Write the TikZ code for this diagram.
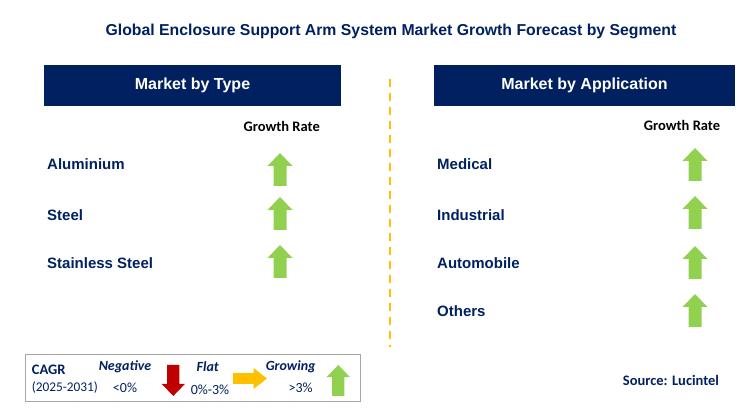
\documentclass[tikz,border=0pt]{standalone}
\usepackage{fontspec}
\setmainfont{Carlito}
\newfontfamily\arialfont{Liberation Sans}
\usetikzlibrary{positioning}
\definecolor{navy}{HTML}{002060}
\definecolor{growgreen}{HTML}{92D050}
\definecolor{flatyellow}{HTML}{FFC000}
\definecolor{negred}{HTML}{C00000}
\tikzset{
  header/.style={fill=navy, text=white, minimum width=297pt, minimum height=41pt,
    font=\arialfont\bfseries\fontsize{16}{18}\selectfont},
  segitem/.style={anchor=west, text=navy, inner sep=0pt,
    font=\arialfont\bfseries\fontsize{15}{18}\selectfont},
  ratehead/.style={inner sep=0pt, font=\bfseries\fontsize{14.5}{17}\selectfont},
  legtext/.style={text=navy, inner sep=0pt, font=\fontsize{14}{16}\selectfont},
  legkey/.style={legtext, font=\bfseries\itshape\fontsize{14}{16}\selectfont},
  pics/blockarrow/.style={code={
    \fill[pic actions] (-6.5,0) -- (-6.5,-20) -- (-12.5,-20) -- (0,-33)
      -- (12.5,-20) -- (6.5,-20) -- (6.5,0) -- cycle;}}
}
\begin{document}
\begin{tikzpicture}[x=1pt, y=-1pt]
  \useasboundingbox (0,0) rectangle (750,411);

  \node (title) [text=navy, font=\arialfont\bfseries\fontsize{15.8}{18}\selectfont]
    at (391,31) {Global Enclosure Support Arm System Market Growth Forecast by Segment};

  \node (typehead) [header] at (192.5,85.5) {Market by Type};
  \node (apphead) [header, minimum width=301pt] at (584.5,85.5) {Market by Application};

  % divider
  \coordinate (divtop) at (390,79);
  \coordinate (divbot) at (390,347);
  \draw [flatyellow, line width=2pt, dash pattern=on 8pt off 6pt] (divtop) -- (divbot);

  \node (typerate) [ratehead] at (281.7,126) {Growth Rate};
  \node (apprate) [ratehead] at (682,125) {Growth Rate};

  % market by type
  \node (alu) [segitem] at (47,164) {Aluminium};
  \node (steel) [segitem] at (47,215) {Steel};
  \node (stainless) [segitem] at (47,263) {Stainless Steel};
  \pic [fill=growgreen] at (280,186) {blockarrow};
  \pic [fill=growgreen] at (280,230) {blockarrow};
  \pic [fill=growgreen] at (280,278) {blockarrow};

  % market by application
  \node (medical) [segitem] at (437,164) {Medical};
  \node (industrial) [segitem] at (437,215) {Industrial};
  \node (auto) [segitem] at (437,263) {Automobile};
  \node (others) [segitem] at (437,311.5) {Others};
  \pic [fill=growgreen] at (695,181) {blockarrow};
  \pic [fill=growgreen] at (695,229) {blockarrow};
  \pic [fill=growgreen] at (695,279) {blockarrow};
  \pic [fill=growgreen] at (695,327) {blockarrow};

  % legend
  \node (legend) [draw=gray!70, line width=1pt, minimum width=335pt, minimum height=47pt]
    at (192.5,377.7) {};
  \node (cagr) [legtext, anchor=west, font=\bfseries\fontsize{14.5}{16}\selectfont] at (31.7,370) {CAGR};
  \node (period) [legtext, anchor=west, font=\fontsize{13.3}{16}\selectfont] at (31.7,388) {(2025-2031)};
  \node (neg) [legkey] at (125,367) {Negative};
  \node (negval) [legtext] at (125,388) {<0\%};
  \pic [fill=negred, rotate=180, scale=0.94] at (173.3,365) {blockarrow};
  \node (flat) [legkey] at (207.7,367) {Flat};
  \node (flatval) [legtext] at (210,390) {0\%-3\%};
  \pic [fill=flatyellow, rotate=-90, xscale=0.84, yscale=1.03] at (233,378.5) {blockarrow};
  \node (grow) [legkey] at (290.7,367) {Growing};
  \node (growval) [legtext] at (300.7,388) {>3\%};
  \pic [fill=growgreen, scale=0.94] at (338.3,396) {blockarrow};

  \node (source) [text=navy, inner sep=0pt, font=\bfseries\fontsize{14.5}{17}\selectfont]
    at (671,380) {Source: Lucintel};
\end{tikzpicture}
\end{document}
